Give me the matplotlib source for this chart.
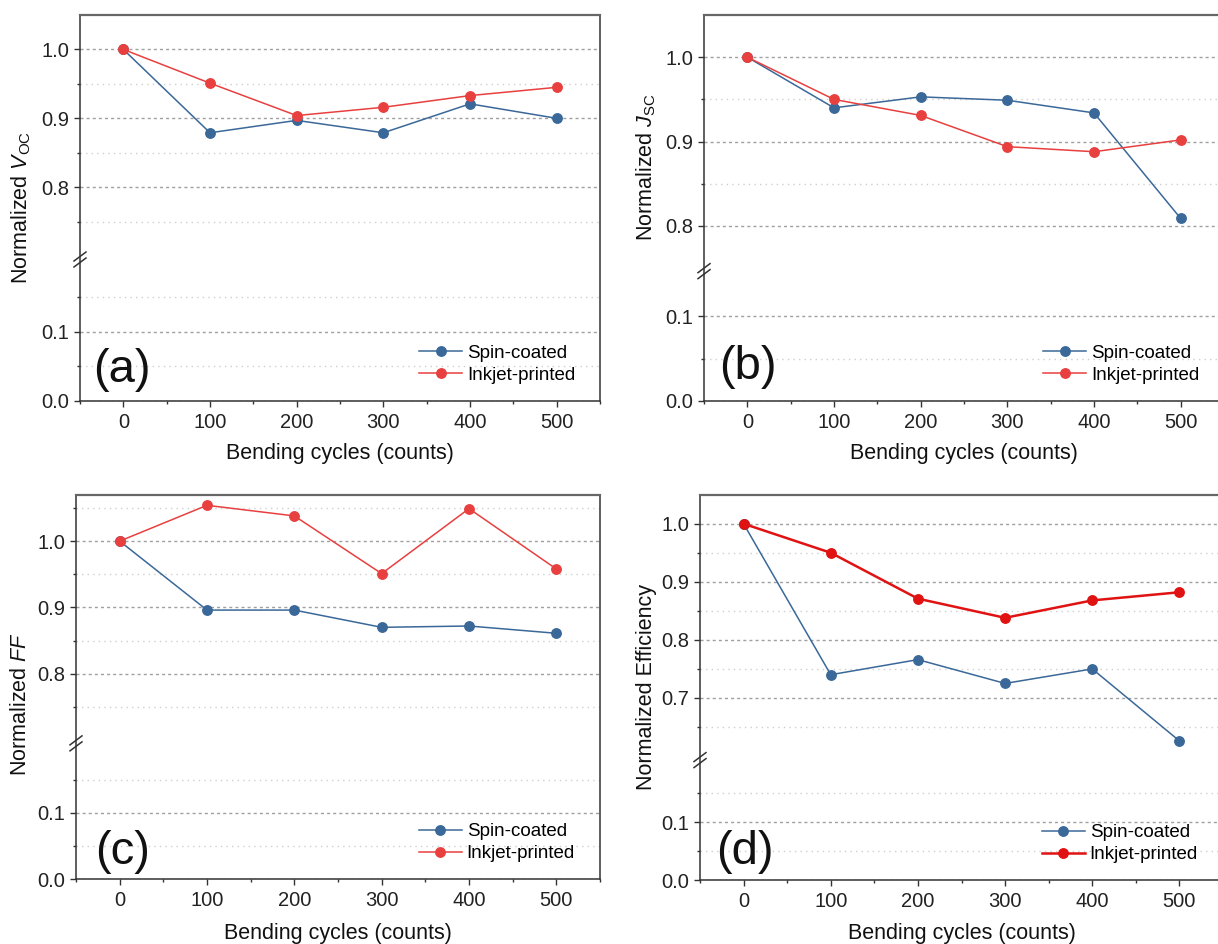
import numpy as np
import matplotlib
matplotlib.use('Agg')
import matplotlib.pyplot as plt
import matplotlib.ticker as ticker

plt.rcParams['font.family'] = ['Liberation Sans', 'DejaVu Sans']
plt.rcParams['mathtext.fontset'] = 'custom'
plt.rcParams['mathtext.rm'] = 'Liberation Sans'
plt.rcParams['mathtext.it'] = 'Liberation Sans:italic'

# ── data ─────────────────────────────────────────────────────────────────
cycles = [0, 100, 200, 300, 400, 500]

voc_spin = [1.0, 0.879, 0.897, 0.879, 0.921, 0.900]
voc_ink = [1.0, 0.951, 0.904, 0.916, 0.933, 0.945]

jsc_spin = [1.0, 0.940, 0.953, 0.949, 0.934, 0.809]
jsc_ink = [1.0, 0.950, 0.931, 0.894, 0.888, 0.902]

ff_spin = [1.0, 0.896, 0.896, 0.870, 0.872, 0.861]
ff_ink = [1.0, 1.054, 1.038, 0.951, 1.049, 0.958]

eff_spin = [1.0, 0.740, 0.766, 0.725, 0.750, 0.626]
eff_ink = [1.0, 0.950, 0.871, 0.838, 0.868, 0.882]

ylabels = [r'Normalized $\mathit{V}_{\mathrm{OC}}$',
           r'Normalized $\mathit{J}_{\mathrm{SC}}$',
           r'Normalized $\mathit{FF}$',
           'Normalized Efficiency']
letters = ['(a)', '(b)', '(c)', '(d)']

BLUE = '#3a6898'
RED = '#e8403f'
RED_D = '#e01212'

W, H = 1218, 944
fig = plt.figure(figsize=(W / 100, H / 100), dpi=100)


def make_scale(lo, hi, g):
    # piecewise axis: [0, lo] | small gap | [hi, top]
    def fwd(y):
        y = np.asarray(y, dtype=float)
        return np.where(y <= lo, y,
                        np.where(y >= hi, y - (hi - lo) + g,
                                 lo + (y - lo) * g / (hi - lo)))

    def inv(t):
        t = np.asarray(t, dtype=float)
        return np.where(t <= lo, t,
                        np.where(t >= lo + g, t + (hi - lo) - g,
                                 lo + (t - lo) * (hi - lo) / g))
    return fwd, inv


# panel layout in pixels: left, right, top, bottom
panels = [
    dict(box=(80, 600, 15, 400.7), lo=0.2, hi=0.7, top=1.05, g=0.010,
         spin=voc_spin, ink=voc_ink, red=RED, rlw=1.1,
         major=[0, 0.1, 0.8, 0.9, 1.0], minor=[0.05, 0.15, 0.75, 0.85, 0.95],
         ylab=(-0.113, 0.50), xlab=-0.136, letter=(0.025, 0.08)),
    dict(box=(704, 1224, 15, 400.7), lo=0.15, hi=0.75, top=1.05, g=0.007,
         spin=jsc_spin, ink=jsc_ink, red=RED, rlw=1.1,
         major=[0, 0.1, 0.8, 0.9, 1.0], minor=[0.05, 0.85, 0.95],
         ylab=(-0.112, 0.606), xlab=-0.136, letter=(0.029, 0.087)),
    dict(box=(76, 600, 494.7, 879.3), lo=0.2, hi=0.7, top=1.07, g=0.010,
         spin=ff_spin, ink=ff_ink, red=RED, rlw=1.1,
         major=[0, 0.1, 0.8, 0.9, 1.0], minor=[0.05, 0.15, 0.75, 0.85, 0.95, 1.05],
         ylab=(-0.105, 0.456), xlab=-0.141, letter=(0.036, 0.071)),
    dict(box=(700, 1223, 494.7, 880.3), lo=0.2, hi=0.6, top=1.05, g=0.014,
         spin=eff_spin, ink=eff_ink, red=RED_D, rlw=1.8,
         major=[0, 0.1, 0.7, 0.8, 0.9, 1.0], minor=[0.05, 0.15, 0.65, 0.75, 0.85, 0.95],
         ylab=(-0.103, 0.50), xlab=-0.138, letter=(0.03, 0.073)),
]

for i, p in enumerate(panels):
    l, r, t, b = p['box']
    ax = fig.add_axes([l / W, 1 - b / H, (r - l) / W, (b - t) / H])
    fwd, inv = make_scale(p['lo'], p['hi'], p['g'])
    ax.set_yscale('function', functions=(fwd, inv))

    ax.plot(cycles, p['spin'], '-o', color=BLUE, lw=1.1, ms=6.8,
            label='Spin-coated', zorder=3)
    ax.plot(cycles, p['ink'], '-o', color=p['red'], lw=p['rlw'], ms=6.8,
            label='Inkjet-printed', zorder=4)

    ax.set_xlim(-50, 550)
    ax.set_ylim(0, p['top'])
    ax.xaxis.set_major_locator(ticker.MultipleLocator(100))
    ax.xaxis.set_minor_locator(ticker.MultipleLocator(50))
    ax.yaxis.set_major_locator(ticker.FixedLocator(p['major']))
    ax.yaxis.set_minor_locator(ticker.FixedLocator(p['minor']))
    ax.yaxis.set_major_formatter(ticker.FormatStrFormatter('%.1f'))
    ax.yaxis.set_minor_formatter(ticker.NullFormatter())

    ax.tick_params(which='major', direction='out', length=4, width=1.0,
                   color='#333333', labelsize=14.5, labelcolor='#222222', pad=3.5)
    ax.tick_params(which='minor', direction='out', length=2.5, width=1.0,
                   color='#333333')
    ax.tick_params(axis='x', which='major', pad=4.5)

    ax.grid(which='major', axis='y', ls=(0, (2.2, 2.2)), color='#a0a0a0', lw=1.0)
    ax.grid(which='minor', axis='y', ls=(0, (1, 3)), color='#cfcfcf', lw=1.0)
    ax.set_axisbelow(True)

    for side in ['left', 'bottom', 'right']:
        ax.spines[side].set_color('#333333')
        ax.spines[side].set_linewidth(1.1)
    ax.spines['top'].set_color('#666666')
    ax.spines['top'].set_linewidth(1.6)

    ax.set_ylabel(ylabels[i], fontsize=15.5, color='#111111')
    ax.yaxis.label.set_verticalalignment('center')
    ax.yaxis.set_label_coords(*p['ylab'])
    ax.set_xlabel('Bending cycles (counts)', fontsize=15.5, color='#111111')
    ax.xaxis.label.set_verticalalignment('center')
    ax.xaxis.set_label_coords(0.5, p['xlab'])

    ax.text(p['letter'][0], p['letter'][1], letters[i], transform=ax.transAxes,
            fontsize=34, ha='left', va='center', color='#111111')

    leg = ax.legend(loc='lower right', bbox_to_anchor=(0.97, 0.02),
                    frameon=False, fontsize=13.5, handlelength=2.3,
                    handletextpad=0.25, labelspacing=0.25, borderpad=0)

    # break marks on the left spine
    wpx, hpx = r - l, b - t
    tmid = p['lo'] + p['g'] / 2
    yc = tmid / float(fwd(p['top']))
    for off in (-3.0, 3.0):
        xs = [-6 / wpx, 6 / wpx]
        ys = [yc + (off - 4.5) / hpx, yc + (off + 4.5) / hpx]
        ax.plot(xs, ys, transform=ax.transAxes, color='#333333', lw=1.1,
                clip_on=False, zorder=5)

fig.savefig('out.png', dpi=100, facecolor='white')
